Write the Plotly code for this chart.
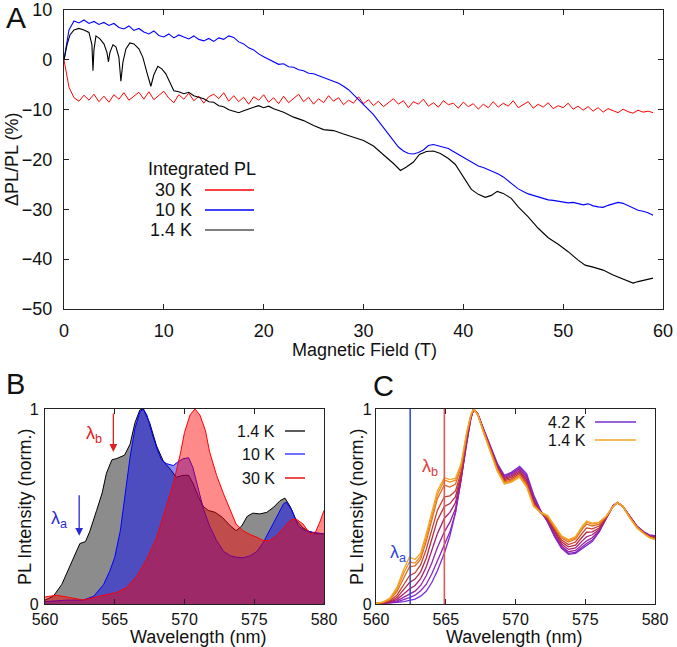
import plotly.graph_objects as go

W, H = 677, 647

# ---------------- Panel A: integrated PL vs field ----------------
field_grid = [i * 0.5 for i in range(119)]  # 0 ... 59 T

dpl_30k = [0, -5.5, -7.6, -8.3, -7.1, -8.1, -6.9, -8.4, -7.3, -8.5, -7.0, -7.9, -6.6, -8.1, -7.3, -6.5,
           -7.9, -6.4, -8.0, -7.1, -6.3, -7.7, -8.6, -7.0, -7.9, -6.7, -8.2, -7.3, -8.7, -7.4, -6.9, -7.8,
           -6.6, -8.3, -7.2, -8.4, -7.5, -8.9, -7.4, -8.1, -7.0, -8.5, -7.6, -8.8, -7.3, -8.6, -7.8, -6.9,
           -8.4, -7.5, -8.9, -7.8, -8.6, -7.2, -8.3, -7.6, -9.0, -8.1, -8.7, -7.4, -8.8, -8.0, -9.2, -8.3,
           -9.4, -8.5, -7.8, -8.9, -8.2, -9.6, -8.4, -8.9, -7.9, -9.3, -8.6, -9.5, -8.2, -9.0, -8.7, -9.7,
           -8.5, -9.4, -8.8, -9.9, -8.9, -9.6, -8.4, -9.5, -8.7, -9.3, -8.2, -9.6, -9.0, -8.4, -9.7, -8.9,
           -9.5, -8.6, -9.8, -9.2, -9.6, -8.7, -9.9, -9.3, -10.1, -9.4, -10.3, -9.6, -10.5, -9.8, -10.2,
           -10.6, -9.9, -10.4, -10.7, -10.1, -10.5, -10.3, -10.6]

dpl_10k = [0, 6, 7.8, 7.4, 8, 7.3, 7.7, 7.1, 7.5, 6.9, 7.3, 6.5, 6.2, 6.8, 5.9, 6.3, 5.6, 5.2, 5.8, 4.9,
           4.6, 5.2, 4.4, 5.0, 4.6, 4.2, 4.8, 4.1, 3.8, 4.3, 3.7, 4.4, 4.1, 4.8, 4.5, 3.6, 3.2, 2.4, 2.0,
           1.2, 0.6, 0.1, -0.3, -0.9, -0.8, -1.4, -1.5, -2.0, -2.2, -2.7, -2.8, -3.2, -3.6, -4.0, -4.3,
           -4.7, -5.3, -6.0, -7.0, -8.0, -8.9, -9.8, -11.0, -12.3, -13.6, -14.9, -16.2, -17.5, -18.3,
           -18.8, -18.9, -18.6, -18.1, -17.2, -17.0, -17.3, -17.5, -17.8, -18.4, -19.0, -19.6, -20.2,
           -20.8, -21.3, -21.6, -22.0, -22.5, -22.9, -23.5, -24.3, -25.2, -25.9, -26.4, -26.9, -27.2,
           -27.5, -27.8, -28.1, -28.2, -28.4, -28.5, -28.7, -28.6, -28.9, -29.1, -28.9, -29.3, -29.5,
           -29.6, -29.2, -28.9, -28.6, -28.8, -29.3, -29.8, -30.2, -30.4, -30.7, -31.2]

field_14k = [0, 0.3, 0.6, 1.0, 1.5, 2.0, 2.5, 2.8, 2.9, 3.0, 3.2, 3.6, 4.0, 4.3, 4.45, 4.6, 4.9, 5.2, 5.5,
             5.7, 5.9, 6.2, 6.6, 7.0, 7.5, 7.9, 8.3, 8.7, 9.0, 9.4, 9.8, 10.2, 10.6, 11.0, 11.5, 12, 12.5,
             13, 13.5, 14, 14.5, 15, 15.5, 16, 16.5, 17, 17.5, 18, 18.5, 19, 19.5, 20, 20.5, 21, 22, 23,
             24, 25, 26, 27, 28, 29, 30, 31, 32, 33, 33.7, 34.3, 35, 35.6, 36.3, 37, 37.7, 38.5, 39.2, 40,
             40.8, 41.5, 42.2, 42.8, 43.4, 44, 44.8, 45.5, 46.5, 47.5, 48.5, 49.5, 50.5, 51.5, 52.2, 53,
             54, 55, 56, 57, 57.5, 58.2, 59]
dpl_14k = [0, 3, 5, 6, 6.3, 6, 5.5, 3, -2.2, 2, 4.8, 4.2, 3.2, 1.5, -0.4, 1.5, 3, 2.6, 0.5, -4.3, -0.5,
           2.2, 3.4, 3.2, 2.2, 0.5, -2.5, -5.3, -3, -1.3, -1.8, -2.8, -4.5, -6.2, -6.4, -6.8, -6.5, -7.2,
           -7.5, -7.8, -8.4, -8.5, -9.2, -9.4, -10, -10.3, -10.6, -10.2, -9.8, -9.5, -9.2, -9.6, -9.3,
           -9.8, -10.5, -11.5, -12.2, -13.2, -14, -14.2, -14.9, -15.5, -16.2, -17.3, -19, -20.8, -22.2,
           -21.5, -20.5, -19, -18.4, -18.3, -18.8, -19.8, -21, -23.5, -26, -27, -27.6, -27.2, -26.4,
           -26.8, -27.8, -29.5, -31.5, -33.8, -35.7, -37, -38.5, -40.2, -41.2, -41.6, -42.2, -43.2, -44,
           -44.8, -44.5, -44.2, -43.8]

# ---------------- Panel B: spectra at three temperatures ----------------
wl_b14 = [560, 560.6, 561.2, 561.8, 562.15, 562.5, 562.9, 563.2, 563.7, 564.1, 564.4, 564.8, 565.1, 565.5,
          565.7, 566.1, 566.45, 566.8, 567.05, 567.5, 568, 568.5, 569, 569.4, 569.9, 570.3, 570.6, 571,
          571.35, 571.7, 572.2, 572.7, 573.3, 573.7, 574.1, 574.5, 574.9, 575.4, 575.9, 576.4, 576.85,
          577.2, 577.6, 578, 578.5, 579, 579.5, 580]
pl_b14 = [0.02, 0.04, 0.10, 0.20, 0.26, 0.31, 0.32, 0.37, 0.48, 0.57, 0.67, 0.74, 0.745, 0.755, 0.763,
          0.82, 0.93, 0.995, 1.0, 0.93, 0.81, 0.73, 0.69, 0.65, 0.66, 0.66, 0.62, 0.55, 0.50, 0.48, 0.47,
          0.445, 0.40, 0.376, 0.40, 0.45, 0.466, 0.462, 0.47, 0.497, 0.53, 0.543, 0.497, 0.43, 0.39,
          0.37, 0.36, 0.36]

wl_b10 = [560, 561.55, 562.75, 563.5, 564.2, 564.65, 565.0, 565.4, 565.75, 566.1, 566.45, 566.8, 567.05,
          567.3, 567.65, 568.0, 568.35, 568.7, 569.2, 569.55, 569.9, 570.3, 570.6, 571, 571.35, 571.8,
          572.3, 572.8, 573.3, 573.7, 574.2, 574.7, 575.2, 575.65, 576.1, 576.6, 577.1, 577.3, 577.7,
          578.15, 578.65, 579.2, 580]
pl_b10 = [0.012, 0.02, 0.02, 0.04, 0.10, 0.17, 0.24, 0.376, 0.565, 0.754, 0.90, 0.986, 1.0, 0.97, 0.88,
          0.80, 0.74, 0.72, 0.71, 0.73, 0.745, 0.75, 0.70, 0.58, 0.49, 0.40, 0.325, 0.27, 0.247, 0.24,
          0.237, 0.247, 0.27, 0.316, 0.376, 0.445, 0.514, 0.522, 0.48, 0.40, 0.376, 0.368, 0.36]

wl_b30 = [560, 560.8, 561.55, 562.75, 563.9, 565.1, 565.85, 566.6, 567.3, 568.0, 568.7, 569.2, 569.7,
          570.0, 570.4, 570.75, 571.1, 571.5, 571.8, 572.3, 572.8, 573.3, 573.7, 574.2, 574.7, 575.2,
          575.65, 576.1, 576.6, 577.1, 577.6, 578.0, 578.5, 579.0, 579.4, 579.7, 580]
pl_b30 = [0.036, 0.045, 0.036, 0.02, 0.04, 0.058, 0.084, 0.144, 0.23, 0.34, 0.50, 0.617, 0.77, 0.88,
          0.97, 1.0, 0.97, 0.89, 0.78, 0.66, 0.565, 0.48, 0.41, 0.376, 0.356, 0.342, 0.325, 0.325, 0.35,
          0.39, 0.43, 0.436, 0.41, 0.36, 0.37, 0.42, 0.48]

# ---------------- Panel C: spectra from 4.2 K down to 1.4 K ----------------
wl_c = [560, 560.5, 561, 561.5, 562, 562.4, 562.8, 563.2, 563.6, 564, 564.4, 564.9, 565.3, 565.7, 566.1,
        566.5, 566.8, 567, 567.3, 567.7, 568.2, 568.7, 569.2, 569.7, 570.3, 570.8, 571.3, 571.8, 572.3,
        572.8, 573.3, 573.8, 574.3, 574.8, 575.1, 575.5, 576, 576.5, 577, 577.3, 577.7, 578.2, 578.7,
        579.2, 579.6, 580]

pl_c = [
    # 4.2 K
    [0.002, 0.003, 0.005, 0.008, 0.012, 0.017, 0.025, 0.04, 0.065, 0.11, 0.17, 0.26, 0.35, 0.47, 0.64,
     0.82, 0.95, 1.0, 0.975, 0.9, 0.81, 0.72, 0.66, 0.675, 0.706, 0.668, 0.56, 0.48, 0.42, 0.345, 0.285,
     0.255, 0.26, 0.285, 0.3, 0.32, 0.37, 0.44, 0.505, 0.52, 0.5, 0.45, 0.4, 0.37, 0.355, 0.35],
    [0.002, 0.003, 0.006, 0.011, 0.022, 0.033, 0.045, 0.068, 0.1, 0.155, 0.22, 0.30, 0.37, 0.47, 0.635,
     0.83, 0.952, 1.0, 0.975, 0.898, 0.805, 0.715, 0.655, 0.67, 0.70, 0.658, 0.55, 0.478, 0.423, 0.35,
     0.29, 0.26, 0.265, 0.295, 0.31, 0.328, 0.372, 0.44, 0.504, 0.52, 0.5, 0.449, 0.399, 0.368, 0.352,
     0.348],
    [0.002, 0.003, 0.007, 0.016, 0.034, 0.05, 0.066, 0.095, 0.145, 0.21, 0.29, 0.37, 0.42, 0.49, 0.64,
     0.835, 0.955, 1.0, 0.974, 0.896, 0.8, 0.71, 0.65, 0.664, 0.693, 0.648, 0.54, 0.475, 0.427, 0.357,
     0.297, 0.268, 0.275, 0.307, 0.324, 0.34, 0.376, 0.441, 0.503, 0.52, 0.5, 0.448, 0.398, 0.367, 0.35,
     0.345],
    [0.002, 0.004, 0.01, 0.024, 0.052, 0.077, 0.095, 0.13, 0.19, 0.27, 0.36, 0.44, 0.47, 0.52, 0.65,
     0.845, 0.958, 1.0, 0.973, 0.894, 0.797, 0.705, 0.644, 0.657, 0.684, 0.638, 0.53, 0.472, 0.43, 0.365,
     0.307, 0.28, 0.288, 0.325, 0.345, 0.355, 0.382, 0.442, 0.502, 0.52, 0.5, 0.447, 0.397, 0.366, 0.348,
     0.342],
    [0.002, 0.005, 0.013, 0.033, 0.075, 0.11, 0.128, 0.165, 0.235, 0.33, 0.43, 0.50, 0.515, 0.55, 0.665,
     0.855, 0.96, 1.0, 0.972, 0.892, 0.793, 0.7, 0.638, 0.65, 0.676, 0.628, 0.522, 0.47, 0.435, 0.374,
     0.318, 0.293, 0.302, 0.345, 0.368, 0.37, 0.39, 0.443, 0.5, 0.52, 0.5, 0.446, 0.396, 0.365, 0.347,
     0.34],
    [0.003, 0.006, 0.017, 0.045, 0.1, 0.145, 0.16, 0.2, 0.28, 0.38, 0.48, 0.55, 0.555, 0.58, 0.68, 0.86,
     0.962, 1.0, 0.972, 0.89, 0.79, 0.695, 0.632, 0.642, 0.668, 0.618, 0.515, 0.468, 0.44, 0.382, 0.328,
     0.305, 0.318, 0.365, 0.39, 0.385, 0.4, 0.445, 0.5, 0.52, 0.5, 0.445, 0.395, 0.364, 0.345, 0.338],
    [0.003, 0.008, 0.023, 0.063, 0.135, 0.19, 0.195, 0.23, 0.32, 0.43, 0.54, 0.61, 0.6, 0.615, 0.7, 0.87,
     0.965, 1.0, 0.97, 0.888, 0.785, 0.69, 0.625, 0.635, 0.66, 0.61, 0.51, 0.468, 0.445, 0.39, 0.338,
     0.318, 0.333, 0.385, 0.41, 0.4, 0.41, 0.448, 0.5, 0.52, 0.5, 0.444, 0.394, 0.363, 0.343, 0.335],
    [0.003, 0.009, 0.027, 0.075, 0.16, 0.215, 0.21, 0.245, 0.34, 0.45, 0.56, 0.635, 0.625, 0.635, 0.71,
     0.875, 0.97, 1.0, 0.97, 0.885, 0.782, 0.685, 0.62, 0.63, 0.655, 0.605, 0.505, 0.47, 0.45, 0.395,
     0.345, 0.325, 0.34, 0.395, 0.42, 0.41, 0.418, 0.45, 0.5, 0.52, 0.5, 0.443, 0.393, 0.362, 0.342,
     0.333],
    # 1.4 K
    [0.003, 0.01, 0.03, 0.085, 0.18, 0.24, 0.228, 0.26, 0.36, 0.47, 0.58, 0.648, 0.638, 0.645, 0.72,
     0.88, 0.97, 1.0, 0.97, 0.88, 0.78, 0.68, 0.615, 0.625, 0.65, 0.6, 0.5, 0.47, 0.455, 0.40, 0.35,
     0.33, 0.345, 0.4, 0.425, 0.415, 0.42, 0.45, 0.5, 0.52, 0.5, 0.44, 0.39, 0.36, 0.34, 0.33],
]
colors_c = ["#7a2ed4", "#8a26c0", "#9a22a0", "#a82070", "#b42a44", "#c8402c", "#e06a22", "#ee8e20",
            "#f5a623"]

lambda_a = 562.45
lambda_b = 564.9

FONT = "Liberation Sans, Arial, Helvetica, sans-serif"
INK = "#111111"


def px(x):
    return x / W


def py(y):
    return 1 - y / H


fig = go.Figure()

# panel A traces
fig.add_trace(go.Scatter(x=field_grid, y=dpl_30k, mode="lines", line=dict(color="#ff0000", width=1),
                         xaxis="x", yaxis="y", showlegend=False))
fig.add_trace(go.Scatter(x=field_grid, y=dpl_10k, mode="lines", line=dict(color="#0000ff", width=1.1),
                         xaxis="x", yaxis="y", showlegend=False))
fig.add_trace(go.Scatter(x=field_14k, y=dpl_14k, mode="lines", line=dict(color="#000000", width=1.1),
                         xaxis="x", yaxis="y", showlegend=False))

# panel B traces (filled)
fig.add_trace(go.Scatter(x=wl_b14, y=pl_b14, mode="lines", fill="tozeroy",
                         fillcolor="rgba(0,0,0,0.45)", line=dict(color="#000000", width=1),
                         xaxis="x2", yaxis="y2", showlegend=False))
fig.add_trace(go.Scatter(x=wl_b10, y=pl_b10, mode="lines", fill="tozeroy",
                         fillcolor="rgba(0,0,255,0.45)", line=dict(color="#0000ff", width=1),
                         xaxis="x2", yaxis="y2", showlegend=False))
fig.add_trace(go.Scatter(x=wl_b30, y=pl_b30, mode="lines", fill="tozeroy",
                         fillcolor="rgba(255,0,0,0.46)", line=dict(color="#ff0000", width=1),
                         xaxis="x2", yaxis="y2", showlegend=False))

# panel C traces
for spec, col in zip(pl_c, colors_c):
    fig.add_trace(go.Scatter(x=wl_c, y=spec, mode="lines", line=dict(color=col, width=1.3),
                             xaxis="x3", yaxis="y3", showlegend=False))

axis_common = dict(showline=True, linecolor="#222222", linewidth=1.2, mirror="ticks", ticks="inside",
                   ticklen=5, tickcolor="#222222", showgrid=False, zeroline=False, automargin=False,
                   tickfont=dict(family=FONT, size=18, color=INK))
small_tick = dict(family=FONT, size=16, color=INK)

fig.update_layout(
    width=W, height=H,
    margin=dict(l=0, r=0, t=0, b=0),
    paper_bgcolor="white", plot_bgcolor="white",
    font=dict(family=FONT, color=INK),
    xaxis=dict(axis_common, domain=[px(64), px(663)], range=[0, 60], dtick=10, anchor="y",
               ticklabelstandoff=5),
    yaxis=dict(axis_common, domain=[py(309), py(10)], range=[-50, 10], dtick=10, anchor="x",
               ticklabelstandoff=7),
    xaxis2=dict(axis_common, domain=[px(45), px(324)], range=[560, 580], dtick=5, anchor="y2",
                ticklabelstandoff=1, tickfont=small_tick),
    yaxis2=dict(axis_common, domain=[py(604), py(409)], range=[0, 1], tickvals=[0, 1], anchor="x2",
                ticklabelstandoff=2, tickfont=small_tick),
    xaxis3=dict(axis_common, domain=[px(376), px(655)], range=[560, 580], dtick=5, anchor="y3",
                ticklabelstandoff=1, tickfont=small_tick),
    yaxis3=dict(axis_common, domain=[py(604), py(409)], range=[0, 1], tickvals=[0, 1], anchor="x3",
                ticklabelstandoff=0, tickfont=small_tick),
)

ann = []
shapes = []


def text(x, y, s, size=18, color=INK, xanchor="center", angle=0):
    ann.append(dict(x=px(x), y=py(y), xref="paper", yref="paper", text=s, showarrow=False,
                    xanchor=xanchor, yanchor="middle", textangle=angle,
                    font=dict(family=FONT, size=size, color=color)))


def seg(x0, x1, y, color, width=1.3):
    shapes.append(dict(type="line", xref="paper", yref="paper", x0=px(x0), x1=px(x1), y0=py(y), y1=py(y),
                       line=dict(color=color, width=width)))


# panel letters
text(16, 18, "A", size=30)
text(15, 384, "B", size=29)
text(383, 386, "C", size=29)

# axis titles
text(364, 350, "Magnetic Field (T)", size=18)
text(12, 160, "ΔPL/PL (%)", size=18, angle=-90)
text(198, 637, "Wavelength (nm)", size=18)
text(25, 507, "PL Intensity (norm.)", size=18, angle=-90)
text(514, 637, "Wavelength (nm)", size=18)
text(357, 507, "PL Intensity (norm.)", size=18, angle=-90)

# legend A
text(202, 169, "Integrated PL", size=18)
for yy, lab, col in [(190, "30 K", "#ff0000"), (210, "10 K", "#0000ff"), (230, "1.4 K", "#555555")]:
    text(194, yy, lab, size=18, xanchor="right")
    seg(205, 254, yy, col)

# legend B
for yy, lab, col in [(431, "1.4 K", "#333333"), (454, "10 K", "#4a4aff"), (478, "30 K", "#e82020")]:
    text(277, yy, lab, size=16, xanchor="right")
    seg(285, 305, yy, col, 1.6)

# legend C
for yy, lab, col in [(422, "4.2 K", colors_c[0]), (440, "1.4 K", colors_c[-1])]:
    text(588, yy, lab, size=16, xanchor="right")
    seg(595, 636, yy, col, 1.6)

# arrows and labels in B
ann.append(dict(x=lambda_a, y=0.35, xref="x2", yref="y2", ax=0, ay=-42, text="", showarrow=True,
                arrowhead=2, arrowsize=1.2, arrowwidth=1.3, arrowcolor="#2a2ad8"))
ann.append(dict(x=lambda_b, y=0.78, xref="x2", yref="y2", ax=0, ay=-40, text="", showarrow=True,
                arrowhead=2, arrowsize=1.2, arrowwidth=1.3, arrowcolor="#e02020"))
text(59, 519, "λ<sub>a</sub>", size=18, color="#2a2ad8")
text(94, 434, "λ<sub>b</sub>", size=18, color="#e02020")

# markers in C
shapes.append(dict(type="line", xref="x3", yref="y3 domain", x0=lambda_a, x1=lambda_a, y0=0, y1=1,
                   line=dict(color="#2a46d8", width=1.5)))
shapes.append(dict(type="line", xref="x3", yref="y3 domain", x0=lambda_b, x1=lambda_b, y0=0, y1=1,
                   line=dict(color="#e05a5a", width=1.6)))
text(398, 553, "λ<sub>a</sub>", size=18, color="#2a46d8")
text(430, 467, "λ<sub>b</sub>", size=18, color="#e03a3a")

fig.update_layout(annotations=ann, shapes=shapes)

# the page body has a default margin; drop it so the figure sits at the window origin
fig.write_html("out.html", config={"displayModeBar": False},
               post_script="document.body.style.margin='0';document.body.style.overflow='hidden';")
